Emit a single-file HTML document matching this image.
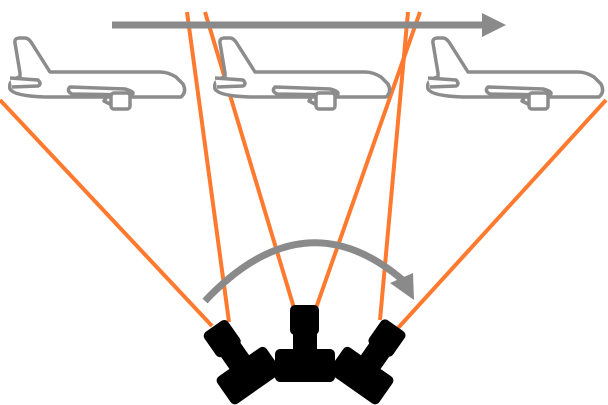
<!DOCTYPE html>
<html><head><style>html,body{margin:0;padding:0;background:#fff}svg{display:block}</style></head>
<body>
<svg width="608" height="405" viewBox="0 0 608 405" xmlns="http://www.w3.org/2000/svg">
<defs>
<g id="plane" fill="#fff" stroke="#8c8c8c" stroke-width="3.5" stroke-linejoin="round">
<path d="M20,73 L15,43 Q14,38 20,38 L25,38 Q28,38 31,42 L50,72 L160,72 Q168,72 176,77 L183,84 Q187,92 181,97 L45,97 Q14,96 10,89 Q8,80 20,77 Z"/>
<path d="M10,78 L38,80 Q42,84 38,86 L12,87"/>
<path d="M70,87 L125,89 Q136,92 132,95 L72,94 Q66,91 70,87 Z"/>
<path d="M106,98 L104,101 L110,104"/>
<rect x="111" y="93" width="19" height="16" rx="3"/>
</g>
<g id="cam" fill="#000">
<rect x="290" y="305" width="29" height="30" rx="5"/>
<rect x="293" y="320" width="24" height="40" rx="3"/>
<rect x="275" y="349" width="60" height="33" rx="5"/>
</g>
</defs>
<g stroke="#ff7a2f" stroke-width="4" stroke-linecap="butt">
<line x1="0" y1="100" x2="212" y2="326"/>
<line x1="187" y1="12" x2="229" y2="322"/>
<line x1="205" y1="12" x2="294" y2="308"/>
<line x1="420" y1="12" x2="316" y2="308"/>
<line x1="408" y1="12" x2="380" y2="320"/>
<line x1="606" y1="100" x2="398" y2="328"/>
</g>
<line x1="112" y1="25" x2="485" y2="25" stroke="#8a8a8a" stroke-width="7"/>
<polygon points="482,13 506,25 482,37" fill="#8a8a8a"/>
<use href="#plane" x="0" y="0"/>
<use href="#plane" x="205" y="0"/>
<use href="#plane" x="418" y="0"/>
<path d="M205,301 Q305,195 405,282" fill="none" stroke="#8a8a8a" stroke-width="7"/>
<polygon points="390,283 414,300 413,273" fill="#8a8a8a"/>
<g transform="translate(-56,10) rotate(-35 305 366)"><use href="#cam"/></g>
<g transform="translate(56,10) rotate(35 305 366)"><use href="#cam"/></g>
<use href="#cam"/>
</svg>
</body></html>
